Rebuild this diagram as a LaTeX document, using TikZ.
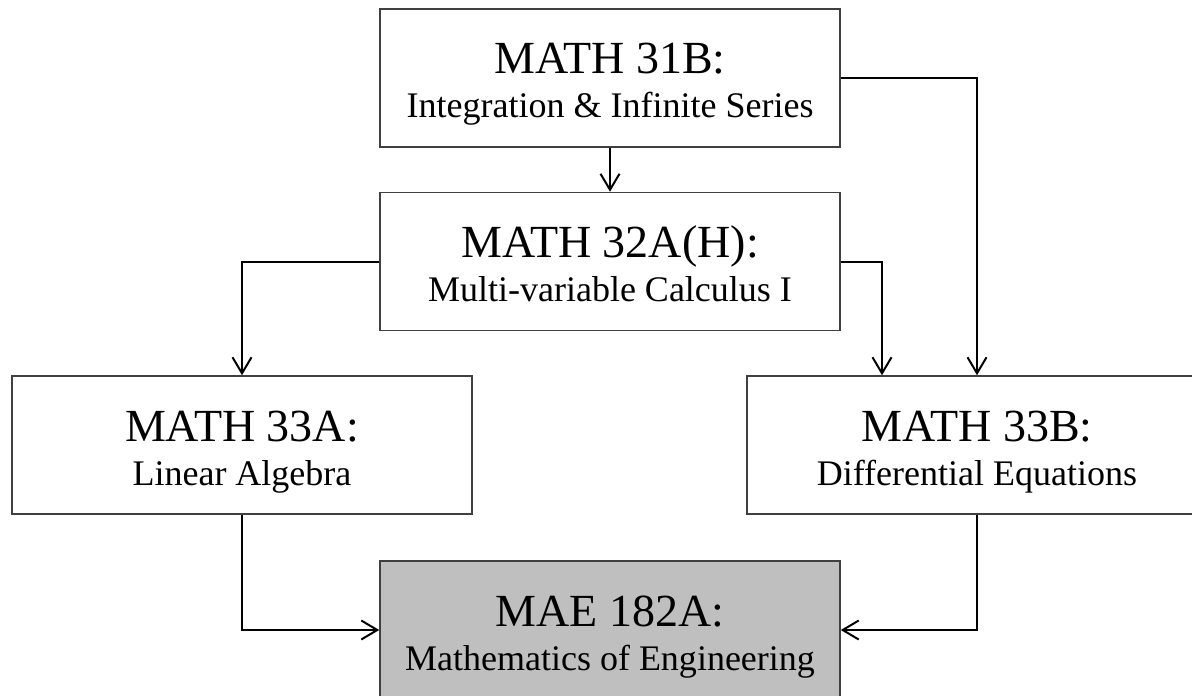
\documentclass[tikz,border=0pt]{standalone}
\usepackage{fontspec}
\setmainfont{Liberation Serif}
\usetikzlibrary{arrows.meta}
\tikzset{
  course/.style={draw=black!75, line width=0.75pt, minimum width=230pt,
    minimum height=69pt, inner sep=0pt, align=center,
    font=\fontsize{18}{22}\selectfont},
  target/.style={course, fill=black!25},
  link/.style={line width=1pt, -{Straight Barb[length=8pt,width=9.5pt,line width=1pt]}},
}
% course code on the first line, course name on the second
\newcommand{\code}[1]{\rule{0pt}{23pt}{\fontsize{23}{22}\selectfont #1}}
\newcommand{\cname}[1]{#1\rule[-5pt]{0pt}{5pt}}
\begin{document}
\begin{tikzpicture}[x=0.5pt,y=-0.5pt]
  \useasboundingbox (0,0) rectangle (1192,695);
  \draw
    (610,78) node[course] (31b) {\code{MATH 31B:}\\\cname{Integration \& Infinite Series}}
    (610,261.5) node[course] (32a) {\code{MATH 32A(H):}\\\cname{Multi-variable Calculus I}}
    (242,445) node[course] (33a) {\code{MATH 33A:}\\\cname{Linear Algebra}}
    (977,445) node[course] (33b) {\code{MATH 33B:}\\\cname{Differential Equations}}
    (610,630) node[target] (182a) {\code{MAE 182A:}\\\cname{Mathematics of Engineering}};
  \begin{scope}[link]
    \draw (31b) to (32a);
    \draw (32a.west) -| (33a.north);
    \draw (32a.east) -| ([xshift=-47.5pt]33b.north);
    \draw (31b.east) -| (33b.north);
    \draw (33a.south) |- (182a.west);
    \draw (33b.south) |- (182a.east);
  \end{scope}
\end{tikzpicture}
\end{document}
